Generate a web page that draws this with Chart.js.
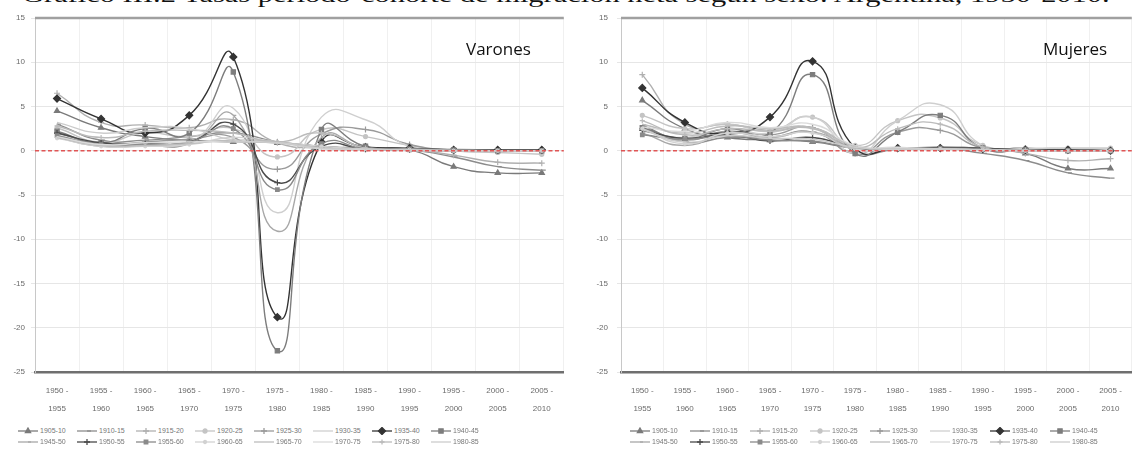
<!DOCTYPE html>
<html>
<head>
<meta charset="utf-8">
<script src="https://cdn.jsdelivr.net/npm/chart.js@4.4.0/dist/chart.umd.min.js"></script>
<style>
  body { margin: 0; width: 1132px; height: 457px; overflow: hidden; background: #fff; position: relative; }
  #title { position: absolute; left: 22px; top: -16px; white-space: nowrap; font-family: "Liberation Serif", serif; font-size: 22px; line-height: 22px; color: #111; transform-origin: 0 0; }
  .wrap { position: absolute; top: 0; height: 414px; }
  #wrapV { left: 0; width: 569px; }
  #wrapM { left: 575px; width: 562px; }
  .sex { position: absolute; font-family: "Open Sans", sans-serif; font-size: 17px; color: #111; }
  .leg { position: absolute; font-family: "Liberation Sans", sans-serif; font-size: 7px; color: #777; white-space: nowrap; }
  .leg canvas { vertical-align: middle; margin-right: 2px; }
</style>
</head>
<body>
<div id="title">Gráfico III.2 Tasas período-cohorte de migración neta según sexo. Argentina, 1950-2010.</div>
<div class="wrap" id="wrapV"><canvas id="chartV"></canvas></div>
<div class="wrap" id="wrapM"><canvas id="chartM"></canvas></div>
<div class="sex" style="left:466px; top:37px;">Varones</div>
<div class="sex" style="left:1043px; top:37px;">Mujeres</div>
<div id="legends"></div>
<script>
const periods = [
  ["1950 -", "1955"], ["1955 -", "1960"], ["1960 -", "1965"], ["1965 -", "1970"],
  ["1970 -", "1975"], ["1975 -", "1980"], ["1980 -", "1985"], ["1985 -", "1990"],
  ["1990 -", "1995"], ["1995 -", "2000"], ["2000 -", "2005"], ["2005 -", "2010"]
];
const cohorts = ["1905-10", "1910-15", "1915-20", "1920-25", "1925-30", "1930-35", "1935-40", "1940-45",
  "1945-50", "1950-55", "1955-60", "1960-65", "1965-70", "1970-75", "1975-80", "1980-85"];
const yTicks = [15, 10, 5, 0, -5, -10, -15, -20, -25];

// Varones
const v1905 = [4.5, 2.6, 1.6, 1.2, 1.0, 0.9, 0.5, 0.2, 0.1, -1.8, -2.5, -2.5];
const v1910 = [3.0, 1.2, 1.2, 1.6, 2.0, 1.0, 0.5, 0.3, 0.1, -0.7, -1.8, -2.2];
const v1915 = [6.5, 3.2, 2.9, 2.6, 3.5, 0.9, 0.3, 0.1, 0.1, -0.5, -1.3, -1.4];
const v1920 = [2.6, 1.0, 2.0, 1.6, 2.5, -0.7, 2.4, 1.6, 0.6, 0.0, -0.2, -0.4];
const v1925 = [2.0, 0.8, 1.0, 1.3, 1.5, -2.1, 1.9, 2.4, 0.7, 0.1, 0.0, 0.0];
const v1930 = [1.8, 0.6, 0.8, 0.9, 4.8, -7.0, 3.8, 3.5, 0.5, 0.2, 0.1, 0.1];
const v1935 = [5.9, 3.6, 2.0, 4.0, 10.6, -18.8, 1.0, 0.4, 0.3, 0.1, 0.1, 0.1];
const v1940 = [2.2, 0.9, 2.5, 2.0, 8.9, -22.6, 2.4, 0.5, 0.2, 0.1, 0.0, 0.0];
const v1945 = [1.5, 0.5, 0.6, 0.8, 4.0, -9.1, 1.5, 0.3, 0.2, 0.1, 0.0, 0.0];
const v1950 = [2.0, 0.9, 0.8, 1.0, 3.0, -3.6, 0.5, 0.2, 0.1, 0.0, 0.0, 0.0];
const v1955 = [1.7, 0.7, 0.7, 1.0, 2.5, -4.4, 0.8, 0.2, 0.1, 0.0, 0.0, 0.0];
const v1960 = [1.4, 0.5, 0.5, 0.7, 1.5, 1.0, 0.5, 0.2, 0.1, 0.0, 0.0, 0.0];
const v1965 = [1.5, 0.6, 0.6, 0.8, 1.2, 1.0, 0.3, 0.1, 0.1, 0.0, 0.0, 0.0];
const v1970 = [1.6, 0.7, 0.9, 1.0, 1.0, 0.9, 0.2, 0.1, 0.0, 0.0, 0.0, 0.0];
const v1975 = [2.8, 1.5, 2.2, 2.3, 2.0, 1.0, 2.0, 0.3, 0.1, 0.0, 0.0, 0.0];
const v1980 = [3.2, 2.0, 2.6, 2.5, 1.2, 0.9, 0.3, 0.2, 0.1, 0.0, 0.0, 0.0];

// Mujeres
const m1905 = [5.7, 2.5, 1.5, 1.2, 1.0, 0.3, 0.2, 0.3, 0.2, -0.3, -2.0, -2.0];
const m1910 = [2.9, 1.0, 1.5, 1.5, 2.1, -0.3, 0.2, 0.3, -0.3, -1.1, -2.5, -3.1];
const m1915 = [8.6, 3.0, 3.0, 2.3, 2.6, 0.3, 0.2, 0.3, 0.3, -0.3, -1.1, -0.9];
const m1920 = [4.0, 2.5, 3.0, 2.3, 3.8, 0.6, 3.4, 3.7, 0.6, 0.3, 0.3, 0.3];
const m1925 = [2.5, 1.2, 2.2, 1.8, 2.6, -0.3, 2.1, 2.3, 0.3, 0.3, 0.0, 0.0];
const m1930 = [2.2, 1.5, 2.5, 2.0, 3.8, -0.3, 3.4, 5.2, 0.6, 0.3, 0.3, 0.3];
const m1935 = [7.1, 3.2, 2.0, 3.8, 10.1, 0.3, 0.3, 0.3, 0.2, 0.1, 0.1, 0.0];
const m1940 = [2.6, 1.4, 2.5, 2.0, 8.6, -0.3, 2.1, 4.0, 0.3, 0.1, 0.0, 0.0];
const m1945 = [2.0, 0.6, 2.0, 1.5, 2.1, 0.3, 0.2, 0.3, 0.2, 0.0, 0.0, 0.0];
const m1950 = [2.3, 1.4, 1.8, 1.1, 1.5, 0.3, 0.3, 0.4, 0.3, 0.1, 0.1, 0.0];
const m1955 = [1.8, 1.3, 1.7, 1.2, 1.1, 0.3, 0.2, 0.3, 0.2, 0.0, 0.0, 0.0];
const m1960 = [2.5, 0.8, 2.0, 1.6, 2.0, 0.2, 0.2, 0.2, 0.1, 0.0, 0.0, 0.0];
const m1965 = [3.0, 2.0, 2.8, 2.5, 2.6, 0.5, 0.3, 0.2, 0.1, 0.0, 0.0, 0.0];
const m1970 = [2.7, 2.2, 3.2, 2.6, 3.0, 0.6, 0.4, 0.2, 0.1, 0.0, 0.0, 0.0];
const m1975 = [3.4, 1.8, 2.5, 2.2, 2.5, 0.3, 2.5, 3.0, 0.4, 0.1, 0.0, 0.0];
const m1980 = [2.4, 1.0, 1.7, 1.4, 1.3, 0.4, 0.2, 0.2, 0.1, 0.0, 0.0, 0.0];

const varones = [v1905, v1910, v1915, v1920, v1925, v1930, v1935, v1940, v1945, v1950, v1955, v1960, v1965, v1970, v1975, v1980];
const mujeres = [m1905, m1910, m1915, m1920, m1925, m1930, m1935, m1940, m1945, m1950, m1955, m1960, m1965, m1970, m1975, m1980];

// line look per cohort (gray shades + marker)
const looks = [
  { c: "#7a7a7a", p: "triangle", r: 3 },
  { c: "#8c8c8c", p: "dash", r: 4 },
  { c: "#b0b0b0", p: "cross", r: 3 },
  { c: "#c4c4c4", p: "circle", r: 2 },
  { c: "#9a9a9a", p: "cross", r: 3 },
  { c: "#cfcfcf", p: "circle", r: 0 },
  { c: "#333333", p: "rectRot", r: 3.5 },
  { c: "#7d7d7d", p: "rect", r: 3 },
  { c: "#a8a8a8", p: "dash", r: 3 },
  { c: "#4a4a4a", p: "cross", r: 3 },
  { c: "#8a8a8a", p: "rect", r: 2.5 },
  { c: "#d2d2d2", p: "circle", r: 1.5 },
  { c: "#bdbdbd", p: "circle", r: 0 },
  { c: "#dadada", p: "circle", r: 0 },
  { c: "#bbbbbb", p: "cross", r: 2.5 },
  { c: "#cccccc", p: "circle", r: 0 }
];

const frame = {
  id: "frame",
  beforeDatasetsDraw(chart) {
    const { ctx, chartArea: a } = chart;
    ctx.save();
    ctx.strokeStyle = "#a0a0a0";
    ctx.lineWidth = 2.5;
    ctx.beginPath();
    ctx.moveTo(a.left, a.top);
    ctx.lineTo(a.right, a.top);
    ctx.stroke();
    ctx.restore();
  },
  afterDatasetsDraw(chart) {
    const { ctx, chartArea: a } = chart;
    const y = chart.scales.y.getPixelForValue(0);
    ctx.save();
    ctx.strokeStyle = "#e05555";
    ctx.lineWidth = 1.5;
    ctx.setLineDash([4, 2.5]);
    ctx.beginPath();
    ctx.moveTo(a.left, y);
    ctx.lineTo(a.right, y);
    ctx.stroke();
    ctx.restore();
  }
};

const makeChart = (id, series, axisWidth, labelPad) => {
  const datasets = series.map((vals, i) => ({
    label: cohorts[i],
    data: vals,
    borderColor: looks[i].c,
    backgroundColor: looks[i].c,
    borderWidth: 1.4,
    pointStyle: looks[i].p,
    pointRadius: looks[i].r,
    pointBorderWidth: 1.2,
    tension: 0.55,
    fill: false
  })).reverse();
  return new Chart(document.getElementById(id), {
    type: "line",
    data: { labels: periods, datasets: datasets },
    plugins: [frame],
    options: {
      responsive: true,
      maintainAspectRatio: false,
      animation: false,
      layout: { padding: { top: 18, right: 0, left: 0, bottom: 0 } },
      plugins: { legend: { display: false }, tooltip: { enabled: false } },
      scales: {
        x: {
          offset: true,
          afterFit: (s) => { s.height = 42; },
          grid: { offset: true, color: "#f0f0f0", drawTicks: false },
          border: { color: "#6f6f6f", width: 2.5 },
          ticks: { color: "#6a6a6a", padding: 10, maxRotation: 0, autoSkip: false,
            font: { family: "Liberation Sans", size: 8, lineHeight: 2.2 } }
        },
        y: {
          min: yTicks[yTicks.length - 1],
          max: yTicks[0],
          afterFit: (s) => { s.width = axisWidth; },
          afterBuildTicks: (s) => { s.ticks = yTicks.map((v) => ({ value: v })); },
          grid: { color: "#e6e6e6", tickLength: 4 },
          border: { color: "#c8c8c8", width: 1 },
          ticks: { color: "#6a6a6a", padding: labelPad, font: { family: "Liberation Sans", size: 8 } }
        }
      }
    }
  });
};

makeChart("chartV", varones, 35, 6);
makeChart("chartM", mujeres, 46, 9);

// legends
const buildLegend = (left, top, spacing) => {
  const box = document.getElementById("legends");
  cohorts.forEach((name, i) => {
    const item = document.createElement("div");
    item.className = "leg";
    item.style.left = (left + (i % 8) * spacing) + "px";
    item.style.top = (top + Math.floor(i / 8) * 11) + "px";
    const cv = document.createElement("canvas");
    cv.width = 20; cv.height = 8;
    const ctx = cv.getContext("2d");
    ctx.strokeStyle = looks[i].c;
    ctx.fillStyle = looks[i].c;
    ctx.lineWidth = 1.3;
    ctx.beginPath(); ctx.moveTo(0, 4); ctx.lineTo(20, 4); ctx.stroke();
    if (looks[i].r > 0) {
      Chart.helpers.drawPoint(ctx, { pointStyle: looks[i].p, radius: looks[i].r, borderWidth: 1.2, rotation: 0 }, 10, 4);
    }
    item.appendChild(cv);
    item.appendChild(document.createTextNode(name));
    box.appendChild(item);
  });
};
buildLegend(18, 427, 59);
buildLegend(630, 427, 60);

// fit title width
const t = document.getElementById("title");
t.style.transform = "scaleX(" + (1088 / t.offsetWidth) + ")";
</script>
</body>
</html>
